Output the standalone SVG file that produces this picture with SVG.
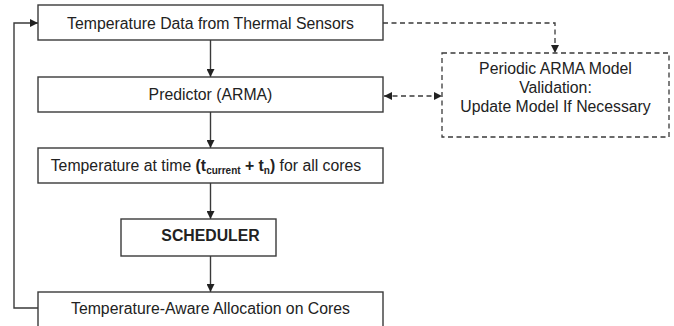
<svg xmlns="http://www.w3.org/2000/svg" width="674" height="326" viewBox="0 0 674 326">
<style>
.box{fill:#fff;stroke:#3a3a3a;stroke-width:1.4}
.dbox{fill:#fff;stroke:#3a3a3a;stroke-width:1.3;stroke-dasharray:5,3.5}
.t{font-family:"Liberation Sans",Arial,sans-serif;font-size:15.8px;fill:#222;text-anchor:middle}
.b{font-weight:bold}
.ln{fill:none;stroke:#3a3a3a;stroke-width:1.4}
.dl{fill:none;stroke:#3a3a3a;stroke-width:1.3;stroke-dasharray:5,3.5}
</style>
<defs>
<marker id="ah" viewBox="0 0 10 10" refX="10" refY="5" markerWidth="8" markerHeight="8" markerUnits="userSpaceOnUse" orient="auto-start-reverse">
<path d="M0,0 L10,5 L0,10 z" fill="#222"/>
</marker>
</defs>
<rect width="674" height="326" fill="#fff"/>
<g id="connectors">
<line class="ln" x1="210.5" y1="40" x2="210.5" y2="77" marker-end="url(#ah)"/>
<line class="ln" x1="210.5" y1="112" x2="210.5" y2="148" marker-end="url(#ah)"/>
<line class="ln" x1="210.5" y1="183" x2="210.5" y2="219" marker-end="url(#ah)"/>
<line class="ln" x1="210.5" y1="256" x2="210.5" y2="292" marker-end="url(#ah)"/>
<polyline class="ln" points="38,308 14,308 14,23 38,23" marker-end="url(#ah)"/>
<polyline class="dl" points="383,23 555,23 555,53" marker-end="url(#ah)"/>
<line class="dl" x1="384" y1="96" x2="442" y2="96" marker-start="url(#ah)" marker-end="url(#ah)"/>
</g>
<g id="sensors">
<rect class="box" x="38" y="5" width="345" height="35"/>
<text class="t" x="210.5" y="28.5">Temperature Data from Thermal Sensors</text>
</g>
<g id="predictor">
<rect class="box" x="38" y="77" width="345" height="35"/>
<text class="t" x="210.5" y="100">Predictor (ARMA)</text>
</g>
<g id="temperature">
<rect class="box" x="38" y="148" width="345" height="35"/>
<text class="t" x="206" y="170.5">Temperature at time <tspan class="b">(t<tspan font-size="10px" dy="3">current</tspan><tspan dy="-3"> + t</tspan><tspan font-size="10px" dy="3">n</tspan><tspan dy="-3">)</tspan></tspan> for all cores</text>
</g>
<g id="scheduler">
<rect class="box" x="121" y="219" width="155" height="37"/>
<text class="t b" x="210.5" y="241">SCHEDULER</text>
</g>
<g id="allocation">
<rect class="box" x="38" y="292" width="345" height="40"/>
<text class="t" x="210.5" y="313.5">Temperature-Aware Allocation on Cores</text>
</g>
<g id="validation">
<rect class="dbox" x="442" y="53" width="227" height="84"/>
<text class="t" x="555.5" y="73.5">Periodic ARMA Model</text>
<text class="t" x="555.5" y="92.5">Validation:</text>
<text class="t" x="555.5" y="111.5">Update Model If Necessary</text>
</g>
</svg>
